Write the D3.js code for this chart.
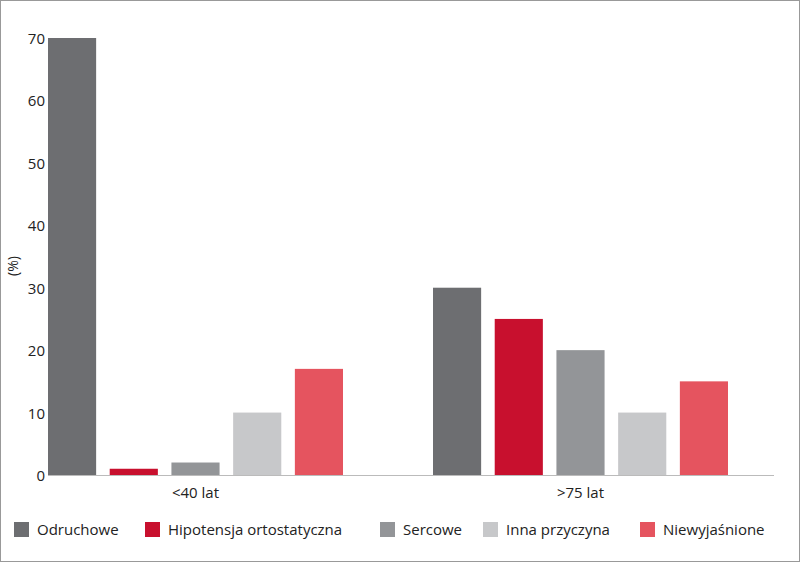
<!DOCTYPE html>
<html><head><meta charset="utf-8">
<script src="https://cdn.jsdelivr.net/npm/d3@7"></script>
<style>body{margin:0;background:#fff}text{font-family:"Open Sans",sans-serif;}</style>
</head><body><svg id="c" width="800" height="562"></svg>
<script>
const groups = ["<40 lat", ">75 lat"];
const series = ["Odruchowe", "Hipotensja ortostatyczna", "Sercowe", "Inna przyczyna", "Niewyjaśnione"];
const colors = ["#6d6e71", "#c8102e", "#939598", "#c7c8ca", "#e5545f"];
const values = [[70, 1, 2, 10, 17], [30, 25, 20, 10, 15]];
const yTicks = [0, 10, 20, 30, 40, 50, 60, 70];

const svg = d3.select("#c");
svg.append("rect").attr("x",0.5).attr("y",0.5).attr("width",799).attr("height",561).attr("fill","none").attr("stroke","#999");
const y = d3.scaleLinear().domain([0,70]).range([475,38]);
const x0 = d3.scaleBand().domain(groups).range([3,773]);
const x1 = d3.scaleBand().domain(series).range([0,295]).paddingInner(0.22);

svg.selectAll(".yt").data(yTicks).enter().append("text")
  .attr("x",45).attr("y",d=>y(d)+6).attr("text-anchor","end").attr("font-size",15).attr("fill","#222").text(d=>d);
svg.append("text").attr("transform","translate(18,266) rotate(-90)").attr("text-anchor","middle").attr("font-size",14).attr("fill","#222").text("(%)");

groups.forEach((g,gi)=>{
  const off = x0(g)+x0.bandwidth()/2-147.5;
  svg.selectAll(".b"+gi).data(series).enter().append("rect")
    .attr("x",s=>off+x1(s)).attr("width",x1.bandwidth())
    .attr("y",(s,i)=>y(values[gi][i])).attr("height",(s,i)=>475-y(values[gi][i]))
    .attr("fill",(s,i)=>colors[i]);
  svg.append("text").attr("x",x0(g)+x0.bandwidth()/2).attr("y",498).attr("text-anchor","middle").attr("font-size",15).attr("fill","#222").text(g);
});
svg.append("line").attr("x1",48).attr("x2",774).attr("y1",475.5).attr("y2",475.5).attr("stroke","#bbb");

const lx = [14, 145, 380, 483, 640];
series.forEach((s,i)=>{
  svg.append("rect").attr("x",lx[i]).attr("y",522).attr("width",15).attr("height",15).attr("fill",colors[i]);
  svg.append("text").attr("x",lx[i]+23).attr("y",535).attr("font-size",15).attr("fill","#222").text(s);
});
</script></body></html>
